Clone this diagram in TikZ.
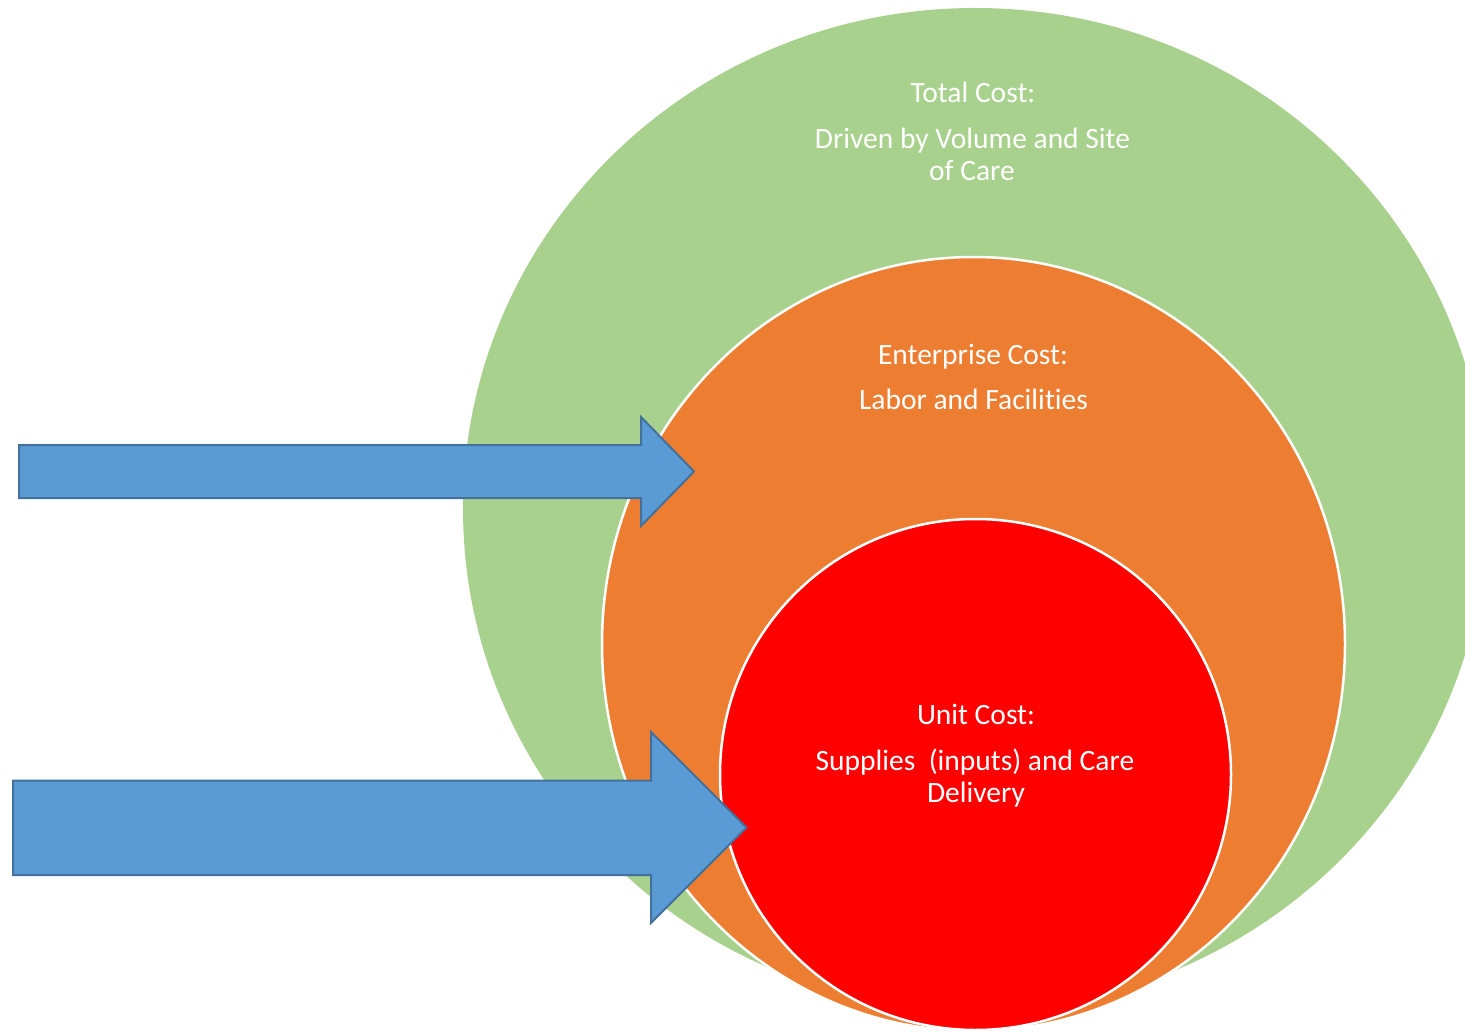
\documentclass[tikz,border=0pt]{standalone}
\usepackage{fontspec}
\setmainfont{Carlito}[Ligatures=NoCommon]
\definecolor{cgreen}{HTML}{A9D18E}
\definecolor{corange}{HTML}{ED7D31}
\definecolor{cred}{HTML}{FF0000}
\definecolor{cblue}{HTML}{5B9BD5}
\definecolor{cblueline}{HTML}{41719C}
\begin{document}
\begin{tikzpicture}[x=1pt,y=-1pt,
  lbl/.style={text=white, font=\fontsize{29.5}{32}\selectfont, anchor=base, inner sep=0pt},
  ring/.style={draw=white, line width=2.5pt},
  blockarrow/.style={fill=cblue, draw=cblueline, line width=2pt, line join=miter}]
\useasboundingbox (0,0) rectangle (1465,1032);
\clip (0,0) rectangle (1465,1032);
\fill[white] (0,0) rectangle (1465,1032);
% circles
\fill[cgreen] (975,509) ellipse [x radius=512, y radius=501];
\path[ring, fill=corange] (973.5,644) ellipse [x radius=371.5, y radius=387];
\path[ring, fill=cred] (975.5,774.5) ellipse [x radius=255.5, y radius=255.5];
% block arrows
\path[blockarrow] (19,445) -- (641,445) -- (641,417) -- (694,471.5) -- (641,526) -- (641,498) -- (19,498) -- cycle;
\path[blockarrow] (13,780.5) -- (651,780.5) -- (651,732) -- (746.5,827.5) -- (651,923) -- (651,875) -- (13,875) -- cycle;
% labels
\node[lbl] (t1) at (973,103) {Total Cost:};
\node[lbl] (t2) at (972.5,149) {Driven by Volume and Site};
\node[lbl] (t3) at (972,181) {of Care};
\node[lbl] (e1) at (973,364) {Enterprise Cost:};
\node[lbl] (e2) at (973.5,409) {Labor and Facilities};
\node[lbl] (u1) at (976,724) {Unit Cost:};
\node[lbl] (u2) at (975,770) {Supplies\ \ (inputs) and Care};
\node[lbl] (u3) at (976,802) {Delivery};
\end{tikzpicture}
\end{document}
